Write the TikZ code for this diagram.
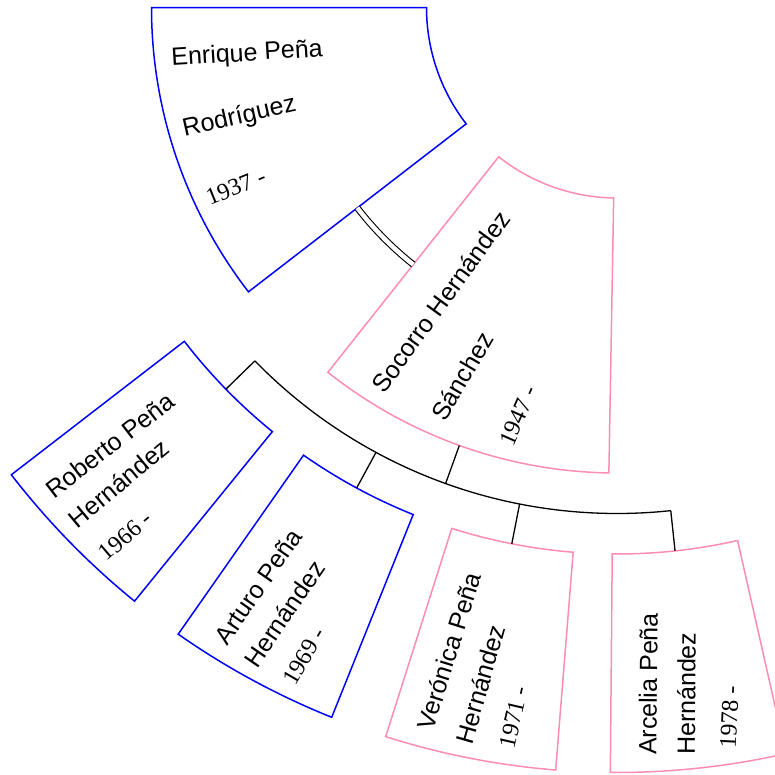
\documentclass[tikz,border=0pt]{standalone}
\usepackage{fontspec}
\setmainfont{Liberation Sans}
\newfontfamily\yearfont{Liberation Serif}
\definecolor{mblue}{RGB}{0,0,255}
\definecolor{fpink}{RGB}{255,140,180}
\newcommand{\fansector}[5]{%
  \draw[#1] (#2:#4) -- (#2:#5) arc[start angle=#2, end angle=#3, radius=#5]
    -- (#3:#4) arc[start angle=#3, end angle=#2, radius=#4] -- cycle;}
\begin{document}
\begin{tikzpicture}[x=1pt,y=1pt,
  malebox/.style={draw=mblue, line width=1.5pt},
  femalebox/.style={draw=fpink, line width=1.5pt},
  linkline/.style={draw=black, line width=1.3pt},
  nametext/.style={inner sep=0pt, font=\fontsize{25}{30}\selectfont, text height=18pt, text depth=0pt},
  yeartext/.style={inner sep=0pt, font=\yearfont\fontsize{24}{29}\selectfont, text height=16pt, text depth=0pt}]
\useasboundingbox (0,0) rectangle (775,-774);
\clip (0,0) rectangle (775,-774);
\begin{scope}[shift={(617,-7.5)}]
  % parents
  \fansector{malebox}{180}{217.65}{190.5}{465.5}
  \fansector{femalebox}{231.6}{269}{190.5}{465.5}
  % children
  \fansector{malebox}{217.65}{230.9}{546.5}{765}
  \fansector{malebox}{235.0}{248.1}{546.5}{765}
  \fansector{femalebox}{252.4}{265.4}{546.5}{765}
  \fansector{femalebox}{269.5}{282.75}{546.5}{765}
  % marriage
  \coordinate (mEnr) at (217.65:328);
  \coordinate (mSoc) at (231.6:328);
  \draw[line width=1.1pt, double, double distance=4.5pt] (mEnr) arc[start angle=217.65, end angle=231.6, radius=328];
  % family connector
  \coordinate (famTop) at (250.2:465.5);
  \coordinate (famBus) at (250.2:506);
  \draw[linkline] (famTop) -- (famBus);
  \coordinate (busStart) at (224.3:506);
  \draw[linkline] (busStart) arc[start angle=224.3, end angle=276.1, radius=506];
  \coordinate (robBus) at (224.3:506);   \coordinate (robIn) at (224.3:546.5);
  \coordinate (artBus) at (241.55:506);  \coordinate (artIn) at (241.55:546.5);
  \coordinate (verBus) at (258.9:506);   \coordinate (verIn) at (258.9:546.5);
  \coordinate (arcBus) at (276.1:506);   \coordinate (arcIn) at (276.1:546.5);
  \draw[linkline] (robBus) -- (robIn);
  \draw[linkline] (artBus) -- (artIn);
  \draw[linkline] (verBus) -- (verIn);
  \draw[linkline] (arcBus) -- (arcIn);
\end{scope}
% texts
\node[nametext, rotate=3.5] (enr1) at (247,-52) {Enrique Peña};
\node[nametext, rotate=12.7] (enr2) at (239,-115) {Rodríguez};
\node[yeartext, rotate=22] (enr3) at (235.7,-186.7) {1937 -};
\node[nametext, rotate=54] (soc1) at (440.7,-301.7) {Socorro Hernández};
\node[nametext, rotate=59.6] (soc2) at (462.3,-376) {Sánchez};
\node[yeartext, rotate=66] (soc3) at (518.3,-415.7) {1947 -};
\node[nametext, rotate=37.5] (rob1) at (110,-445) {Roberto Peña};
\node[nametext, rotate=39.8] (rob2) at (118.7,-483.3) {Hernández};
\node[yeartext, rotate=40.5] (rob3) at (125.3,-535.7) {1966 -};
\node[nametext, rotate=55.2] (art1) at (258.3,-586.3) {Arturo Peña};
\node[nametext, rotate=55.6] (art2) at (284.3,-613.7) {Hernández};
\node[yeartext, rotate=60] (art3) at (303.7,-656) {1969 -};
\node[nametext, rotate=72.7] (ver1) at (449,-651) {Verónica Peña};
\node[nametext, rotate=74] (ver2) at (480.3,-684.3) {Hernández};
\node[yeartext, rotate=77] (ver3) at (513.7,-717.3) {1971 -};
\node[nametext, rotate=89.4] (arc1) at (648,-684) {Arcelia Peña};
\node[nametext, rotate=89.6] (arc2) at (686.3,-693.7) {Hernández};
\node[yeartext, rotate=87] (arc3) at (729.3,-717) {1978 -};
\end{tikzpicture}
\end{document}
